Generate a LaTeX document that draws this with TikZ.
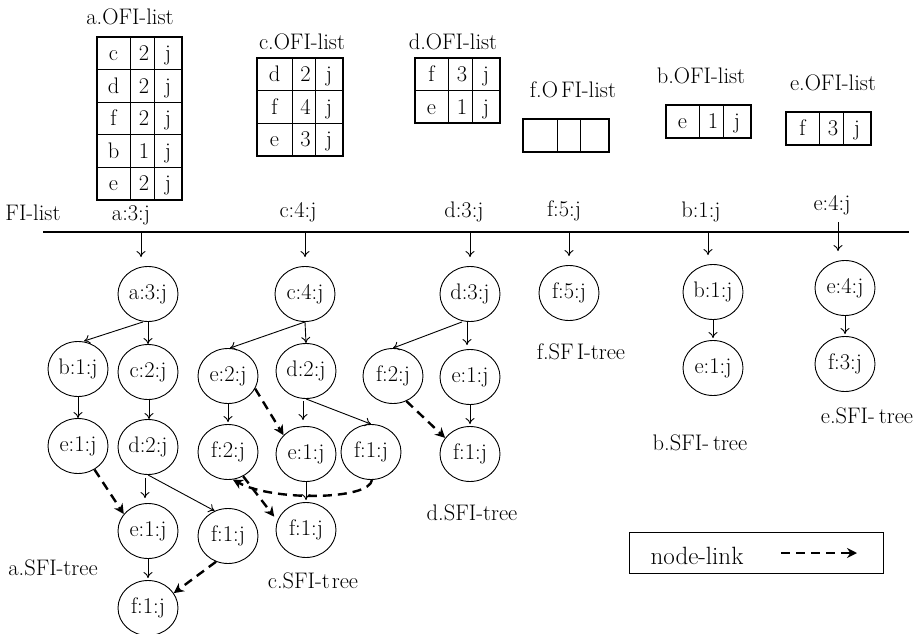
\documentclass[tikz,border=0pt]{standalone}
\usetikzlibrary{shapes.geometric,arrows.meta}

% one OFI-list table: name, left, col1, col2, right, top, rows c1/c2/c3
\newcommand{\ofitable}[7]{%
  \foreach \ca/\cb/\cc [count=\i] in {#7} {
    \pgfmathsetmacro\ya{#6+(\i-1)*32.5}
    \pgfmathsetmacro\yb{\ya+32.5}
    \pgfmathsetmacro\yl{\ya+16.25+7.5}
    \draw[innerline] (#2,\ya) rectangle (#5,\yb) (#3,\ya) -- (#3,\yb) (#4,\ya) -- (#4,\yb);
    \node[anchor=base] (#1-\i-a) at ({(#2+#3)/2},\yl) {\ca};
    \node[anchor=base] (#1-\i-b) at ({(#3+#4)/2+2},\yl) {\cb};
    \node[anchor=base] (#1-\i-c) at ({(#4+#5)/2},\yl) {\cc};
  }
}

\begin{document}
\begin{tikzpicture}[x=1pt,y=-1pt,
  every node/.style={font=\fontsize{22.5}{26}\selectfont, inner sep=0pt},
  sfi/.style={draw, ellipse, minimum width=60pt, minimum height=55pt, inner sep=0pt, line width=0.9pt},
  lnk/.style={-{To[length=6pt,width=9pt]}, line width=0.9pt},
  nodelink/.style={-{Stealth[length=10pt,width=10pt]}, line width=2.4pt, dash pattern=on 9pt off 6pt},
  lbl/.style={anchor=base},
  outerline/.style={line width=2pt},
  innerline/.style={line width=0.9pt},
]
\useasboundingbox (0,0) rectangle (921,634);

% ---------- OFI-list tables ----------
\node[lbl] (ta) at (130,25) {a.OFI-list};
\ofitable{oa}{97}{130}{154}{182}{37}{c/2/j, d/2/j, f/2/j, b/1/j, e/2/j}
\draw[outerline] (97,37) rectangle (182,199.5);

\node[lbl] (tc) at (302,50) {c.OFI-list};
\ofitable{oc}{257}{292}{315}{343}{58}{d/2/j, f/4/j, e/3/j}
\draw[outerline] (257,58) rectangle (343,155.5);

\node[lbl] (td) at (453,50) {d.OFI-list};
\ofitable{od}{415}{448}{472}{500}{58}{f/3/j, e/1/j}
\draw[outerline] (415,58) rectangle (500,123);

\node[lbl] (tf) at (573,97) {f.O\hspace{3pt}FI-list};
\draw[innerline] (557,119) -- (557,152) (580,119) -- (580,152);
\draw[outerline] (523,119) rectangle (609,152);

\node[lbl] (tb) at (701,83) {b.OFI-list};
\ofitable{ob}{666}{699}{723}{751}{105}{e/1/j}
\draw[outerline] (666,105) rectangle (751,137.5);

\node[lbl] (te) at (833,90) {e.OFI-list};
\ofitable{oe}{786}{819}{843}{871}{112}{f/3/j}
\draw[outerline] (786,112) rectangle (871,145);

% ---------- FI-list ----------
\node[lbl] (fil) at (33,220) {FI-list};
\node[lbl] (la) at (131,220) {a:3:j};
\node[lbl] (lc) at (298,217) {c:4:j};
\node[lbl] (ld) at (464,217) {d:3:j};
\node[lbl] (lf) at (564,216) {f:5:j};
\node[lbl] (lb) at (701,217) {b:1:j};
\node[lbl] (le) at (832,210) {e:4:j};
\draw[line width=2.6pt] (43,232) coordinate (fstart) -- (909,232) coordinate (fend);
\coordinate (fa) at (141,232);
\coordinate (fc) at (305,232);
\coordinate (fd) at (470,232);
\coordinate (ff) at (569,232);
\coordinate (fb) at (708,232);
\coordinate (fe) at (838,222);

% ---------- a.SFI-tree ----------
\node[sfi] (a3)  at (148,294) {a:3:j};
\node[sfi] (b1)  at (78,369)  {b:1:j};
\node[sfi] (c2)  at (148,372) {c:2:j};
\node[sfi] (e1a) at (78,446)  {e:1:j};
\node[sfi] (d2a) at (148,447) {d:2:j};
\node[sfi] (e1b) at (148,531) {e:1:j};
\node[sfi] (f1a) at (228,536) {f:1:j};
\node[sfi] (f1b) at (148,608) {f:1:j};
\node[lbl] (sa) at (53,575) {a.SFI-tree};

% ---------- c.SFI-tree ----------
\node[sfi] (c4)  at (305,294) {c:4:j};
\node[sfi] (e2)  at (228,376) {e:2:j};
\node[sfi] (d2c) at (306,371) {d:2:j};
\node[sfi] (f2c) at (228,452) {f:2:j};
\node[sfi] (e1c) at (306,454) {e:1:j};
\node[sfi] (f1c) at (371,452) {f:1:j};
\node[sfi] (f1d) at (306,530) {f:1:j};
\node[lbl] (sc) at (313,588) {c.SFI-t\hspace{2pt}ree};

% ---------- d.SFI-tree ----------
\node[sfi] (d3)  at (470,294) {d:3:j};
\node[sfi] (f2d) at (393,376) {f:2:j};
\node[sfi] (e1d) at (470,377) {e:1:j};
\node[sfi] (f1e) at (470,454) {f:1:j};
\node[lbl] (sd) at (472,520) {d.SFI-tree};

% ---------- f, b, e SFI-trees ----------
\node[sfi] (f5)  at (569,293) {f:5:j};
\node[lbl] (sf) at (581,359) {f.SF\hspace{3pt}I-tree};
\node[sfi] (b1t) at (713,292) {b:1:j};
\node[sfi] (e1t) at (713,368) {e:1:j};
\node[lbl] (sb) at (700,450) {b.SFI-\hspace{4pt}tree};
\node[sfi] (e4)  at (845,288) {e:4:j};
\node[sfi] (f3)  at (845,364) {f:3:j};
\node[lbl] (se) at (867,423) {e.SFI-\hspace{4pt}tree};

% ---------- links from the FI-list ----------
\foreach \src/\dst in {fa/a3, fc/c4, fd/d3, ff/f5, fb/b1t, fe/e4}
  \draw[lnk, shorten >=9pt] (\src) -- (\src |- \dst.north);

% ---------- tree edges ----------
\draw[lnk] ([xshift=-5pt]a3.south) -- ([xshift=6pt]b1.north);
\draw[lnk] (a3.south) -- (c2.north);
\draw[lnk] (b1.south) -- (e1a.north);
\draw[lnk] ([xshift=1pt]c2.south) -- ([xshift=1pt]d2a.north);
\draw[lnk, shorten <=3pt, shorten >=5pt] ([xshift=-3pt]d2a.south) -- ([xshift=-3pt]e1b.north);
\draw[lnk] (d2a.south) -- (f1a.118);
\draw[lnk, shorten >=2pt] (e1b.south) -- (f1b.north);

\draw[lnk] (c4.south) -- ([xshift=2pt]e2.north);
\draw[lnk] (c4.south) -- (d2c.north);
\draw[lnk, shorten >=2pt] (e2.south) -- (f2c.north);
\draw[lnk, shorten <=2pt, shorten >=6pt] ([xshift=-3pt]d2c.south) -- ([xshift=-3pt]e1c.north);
\draw[lnk] (d2c.south) -- (f1c.north);
\draw[lnk, shorten >=2pt] (e1c.south) -- (f1d.north);

\draw[lnk] ([xshift=-8pt]d3.south) -- (f2d.north);
\draw[lnk, shorten >=4pt] ([xshift=-3pt]d3.south) -- ([xshift=-3pt]e1d.north);
\draw[lnk, shorten >=2pt] (e1d.south) -- (f1e.north);

\draw[lnk, shorten >=2pt] (b1t.south) -- (e1t.north);
\draw[lnk, shorten >=2pt] (e4.south) -- (f3.north);

% ---------- node-links ----------
\draw[nodelink] (e1a.-55) -- (e1b.145);
\draw[nodelink] (f1a.-115) -- (f1b.30);
\draw[nodelink] (e2.-25) -- (e1c.140);
\draw[nodelink] (f1c.-88) .. controls +(-2,20) and +(40,22) .. (f2c.-80);
\draw[nodelink, shorten >=5pt] (f2c.-58) -- (f1d.162);
\draw[nodelink] (f2d.-62) -- (f1e.147);

% ---------- legend ----------
\node[draw, line width=0.9pt, minimum width=254pt, minimum height=41pt] (legend) at (756,552.5) {};
\node (lgtext) at (697,556) {\fontsize{25}{28}\selectfont node-link};
\coordinate (lgs) at (781,553);
\coordinate (lge) at (857,553);
\draw[nodelink] (lgs) -- (lge);
\end{tikzpicture}
\end{document}
